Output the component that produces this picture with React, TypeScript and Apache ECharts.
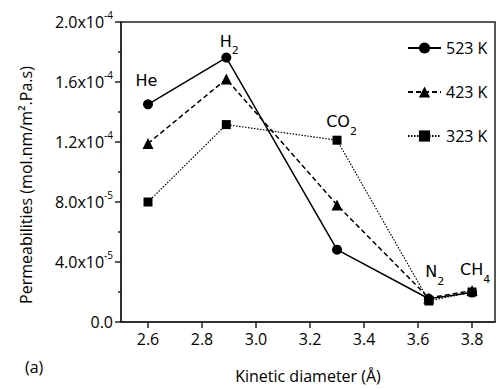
import React, { useEffect, useRef } from "react";
import * as echarts from "echarts";

const kineticDiameters = [2.6, 2.89, 3.3, 3.64, 3.8];
const gasNames = ["He", "H2", "CO2", "N2", "CH4"];
const perm523 = [1.451e-4, 1.763e-4, 0.482e-4, 0.155e-4, 0.196e-4];
const perm423 = [1.19e-4, 1.62e-4, 0.78e-4, 0.16e-4, 0.21e-4];
const perm323 = [0.8e-4, 1.316e-4, 1.212e-4, 0.14e-4, 0.2e-4];
const seriesNames = ["523 K", "423 K", "323 K"];
const xTickValues = [2.6, 2.8, 3.0, 3.2, 3.4, 3.6, 3.8];

const FONT = "Open Sans";
const ANNO_FONT = "DejaVu Sans";

function yLabel(v: number): string {
  if (v === 0) return "{b|0.0}";
  const e = Math.floor(Math.log10(v) + 1e-9);
  const m = v / Math.pow(10, e);
  return `{b|${m.toFixed(1)}x10}{s|${e}}`;
}

const annoRich = {
  m: { fontFamily: ANNO_FONT, fontSize: 16, color: "#000", lineHeight: 30 },
  d: { fontFamily: ANNO_FONT, fontSize: 11, color: "#000", verticalAlign: "bottom" as const },
};

function annoText(name: string): string {
  const match = name.match(/^([A-Za-z]+?)(\d*)$/);
  if (!match) return `{m|${name}}`;
  return match[2] ? `{m|${match[1]}}{d|${match[2]}}` : `{m|${match[1]}}`;
}

function annotated(values: number[], labels: Record<number, [number, number]>) {
  return values.map((v, i) => {
    const item: any = { value: [kineticDiameters[i], v] };
    if (labels[i]) {
      item.label = {
        show: true,
        position: "inside",
        align: "center",
        verticalAlign: "middle",
        offset: labels[i],
        formatter: annoText(gasNames[i]),
        rich: annoRich,
      };
    }
    return item;
  });
}

export default function App() {
  const ref = useRef<HTMLDivElement>(null);
  useEffect(() => {
    if (!ref.current) return;
    const chart = echarts.init(ref.current, null, { renderer: "svg" });
    const common = {
      type: "line" as const,
      color: "#000",
      symbolKeepAspect: true,
      label: { show: false },
      emphasis: { disabled: true },
    };
    chart.setOption({
      animation: false,
      backgroundColor: "#fff",
      grid: {
        left: 121,
        right: 6,
        top: 22,
        bottom: 61,
        show: true,
        borderColor: "#222",
        borderWidth: 1.5,
      },
      legend: {
        data: seriesNames,
        orient: "vertical",
        left: 407,
        top: 40,
        padding: 0,
        itemWidth: 33,
        itemHeight: 14,
        itemGap: 28,
        textStyle: { fontFamily: FONT, fontSize: 16, color: "#000" },
      },
      graphic: [
        {
          type: "text",
          left: 25,
          top: 359,
          style: { text: "(a)", fontFamily: FONT, fontSize: 16, fill: "#000" },
        },
      ],
      xAxis: {
        type: "value",
        min: 2.5,
        max: 3.885,
        name: "Kinetic diameter (Å)",
        nameLocation: "middle",
        nameGap: 46,
        nameTextStyle: { fontFamily: FONT, fontSize: 16, color: "#000" },
        axisLine: { show: true, onZero: false, lineStyle: { color: "#222", width: 1.5 } },
        axisTick: {
          show: true,
          length: 6,
          lineStyle: { color: "#222", width: 1.5 },
          customValues: xTickValues,
        },
        axisLabel: {
          fontFamily: FONT,
          fontSize: 16,
          color: "#000",
          margin: 9,
          customValues: xTickValues,
          formatter: (v: number) => v.toFixed(1),
        },
        splitLine: { show: false },
      },
      yAxis: {
        type: "value",
        min: 0,
        max: 2e-4,
        interval: 4e-5,
        name: "Permeabilities (mol.nm/m².Pa.s)",
        nameLocation: "middle",
        nameGap: 87,
        nameTextStyle: { fontFamily: FONT, fontSize: 16, color: "#000", padding: [0, 26, 0, 0] },
        axisLine: { show: true, lineStyle: { color: "#222", width: 1.5 } },
        axisTick: { show: true, length: 6, lineStyle: { color: "#222", width: 1.5 } },
        minorTick: { show: true, splitNumber: 2, length: 3, lineStyle: { color: "#222", width: 1.5 } },
        axisLabel: {
          margin: 8,
          formatter: yLabel,
          rich: {
            b: { fontFamily: FONT, fontSize: 16, color: "#000", lineHeight: 24 },
            s: { fontFamily: FONT, fontSize: 10, color: "#000", verticalAlign: "top" },
          },
        },
        splitLine: { show: false },
      },
      series: [
        {
          ...common,
          name: seriesNames[0],
          symbol: "circle",
          symbolSize: 10,
          lineStyle: { color: "#000", width: 1.5, type: "solid" },
          itemStyle: { color: "#000" },
          data: annotated(perm523, {
            0: [-1.5, -24],
            1: [3, -16.5],
            3: [6, -27],
            4: [3, -23],
          }),
          z: 3,
        },
        {
          ...common,
          name: seriesNames[1],
          symbol: "triangle",
          symbolSize: 11,
          lineStyle: { color: "#000", width: 1.5, type: [5, 3] },
          itemStyle: { color: "#000" },
          data: annotated(perm423, {}),
          z: 2,
        },
        {
          ...common,
          name: seriesNames[2],
          symbol: "rect",
          symbolSize: 9,
          lineStyle: { color: "#000", width: 1.2, type: [1.5, 1.5] },
          itemStyle: { color: "#000" },
          data: annotated(perm323, { 2: [4.5, -18.5] }),
          z: 1,
        },
      ],
    });
    return () => chart.dispose();
  }, []);
  return (
    <div
      ref={ref}
      style={{ position: "absolute", left: 0, top: 0, width: 501, height: 389 }}
    />
  );
}
